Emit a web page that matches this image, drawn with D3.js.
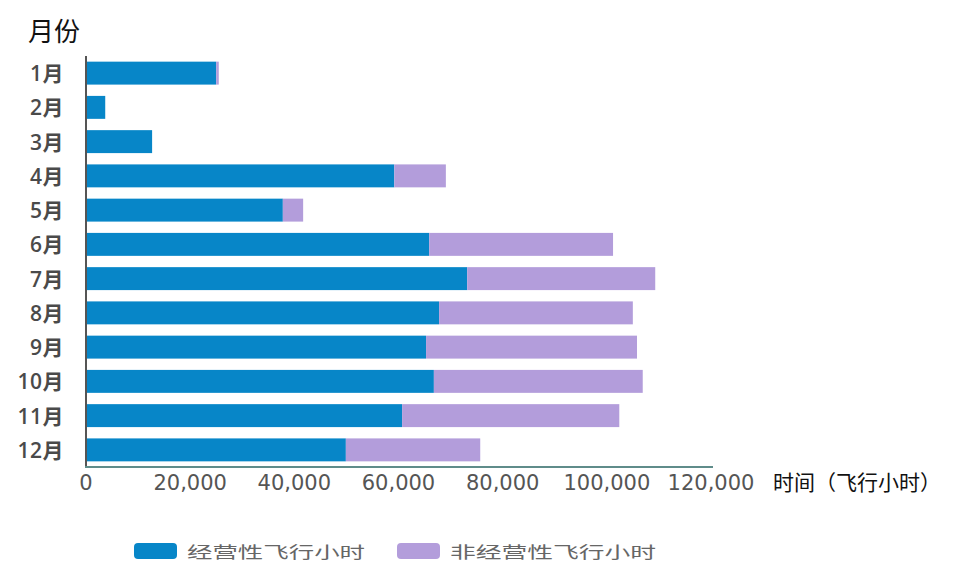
<!DOCTYPE html>
<html>
<head>
<meta charset="utf-8">
<script src="https://cdn.jsdelivr.net/npm/d3@7"></script>
<style>
  html, body { margin: 0; padding: 0; background: #fff; }
  svg { display: block; }
</style>
</head>
<body>
<svg id="chart" width="956" height="563"></svg>
<script>
// Monthly flight hours, split into operating and non-operating flights
const months = ["1月","2月","3月","4月","5月","6月","7月","8月","9月","10月","11月","12月"];
const operating    = [24800, 3500, 12500, 59000, 37600, 65700, 73000, 67600, 65100, 66600, 60500, 49700];
const nonOperating = [  500,    0,     0,  9900,  3900, 35300, 36100, 37200, 40500, 40100, 41700, 25800];
const seriesNames = ["经营性飞行小时", "非经营性飞行小时"];
const xTicks = [0, 20000, 40000, 60000, 80000, 100000, 120000];

const colors = ["#0786c8", "#b39ddb"];

const svg = d3.select("#chart");

const x = d3.scaleLinear().domain([0, 120000]).range([86, 711]);
const y = d3.scaleBand().domain(months).range([56, 467]).paddingInner(0.33).paddingOuter(0.165);

const rows = months.map((m, i) => ({ month: m, operating: operating[i], nonOperating: nonOperating[i] }));
const stacked = d3.stack().keys(["operating", "nonOperating"])(rows);

// bars
svg.append("g").selectAll("g")
  .data(stacked)
  .join("g")
  .attr("fill", (d, i) => colors[i])
  .selectAll("rect")
  .data(d => d)
  .join("rect")
  .attr("x", d => x(d[0]) + 1)
  .attr("y", d => y(d.data.month))
  .attr("width", d => Math.max(0, x(d[1]) - x(d[0])))
  .attr("height", y.bandwidth());

// y axis line
svg.append("line")
  .attr("x1", 86).attr("x2", 86)
  .attr("y1", 56).attr("y2", 468)
  .attr("stroke", "#555").attr("stroke-width", 2);

// x axis line
svg.append("line")
  .attr("x1", 85).attr("x2", 713)
  .attr("y1", 467).attr("y2", 467)
  .attr("stroke", "#5f8c8a").attr("stroke-width", 2);

// month labels
svg.append("g").selectAll("text")
  .data(months)
  .join("text")
  .attr("x", 64)
  .attr("y", d => y(d) + y.bandwidth() / 2)
  .attr("text-anchor", "end")
  .attr("dominant-baseline", "central")
  .attr("font-family", "'Open Sans', 'Noto Sans CJK SC', sans-serif")
  .attr("font-weight", 600)
  .attr("font-size", 21)
  .attr("letter-spacing", 0.5)
  .attr("fill", "#4a4a4a")
  .text(d => d);

// x tick labels
const fmt = d3.format(",");
svg.append("g").selectAll("text")
  .data(xTicks)
  .join("text")
  .attr("x", d => x(d))
  .attr("y", 490)
  .attr("text-anchor", "middle")
  .attr("font-family", "'DejaVu Sans', sans-serif")
  .attr("font-size", 21)
  .attr("fill", "#555")
  .text(d => fmt(d));

// axis titles
svg.append("text")
  .attr("x", 28).attr("y", 41)
  .attr("font-family", "'Noto Sans CJK SC', sans-serif")
  .attr("font-size", 26)
  .attr("fill", "#111")
  .text("月份");

svg.append("text")
  .attr("x", 773).attr("y", 490)
  .attr("font-family", "'Noto Sans CJK SC', sans-serif")
  .attr("font-size", 21)
  .attr("fill", "#111")
  .text("时间（飞行小时）");

// legend
const legendX = [134, 397];
const legendTextLen = [178, 206];
const legend = svg.append("g").selectAll("g")
  .data(seriesNames)
  .join("g")
  .attr("transform", (d, i) => `translate(${legendX[i]},543)`);
legend.append("rect")
  .attr("width", 43).attr("height", 16)
  .attr("rx", 4)
  .attr("fill", (d, i) => colors[i]);
legend.append("text")
  .attr("x", 53).attr("y", 8)
  .attr("dominant-baseline", "central")
  .attr("font-family", "'Noto Sans CJK SC', sans-serif")
  .attr("font-size", 16)
  .attr("fill", "#666")
  .attr("textLength", (d, i) => legendTextLen[i])
  .attr("lengthAdjust", "spacingAndGlyphs")
  .text(d => d);
</script>
</body>
</html>
